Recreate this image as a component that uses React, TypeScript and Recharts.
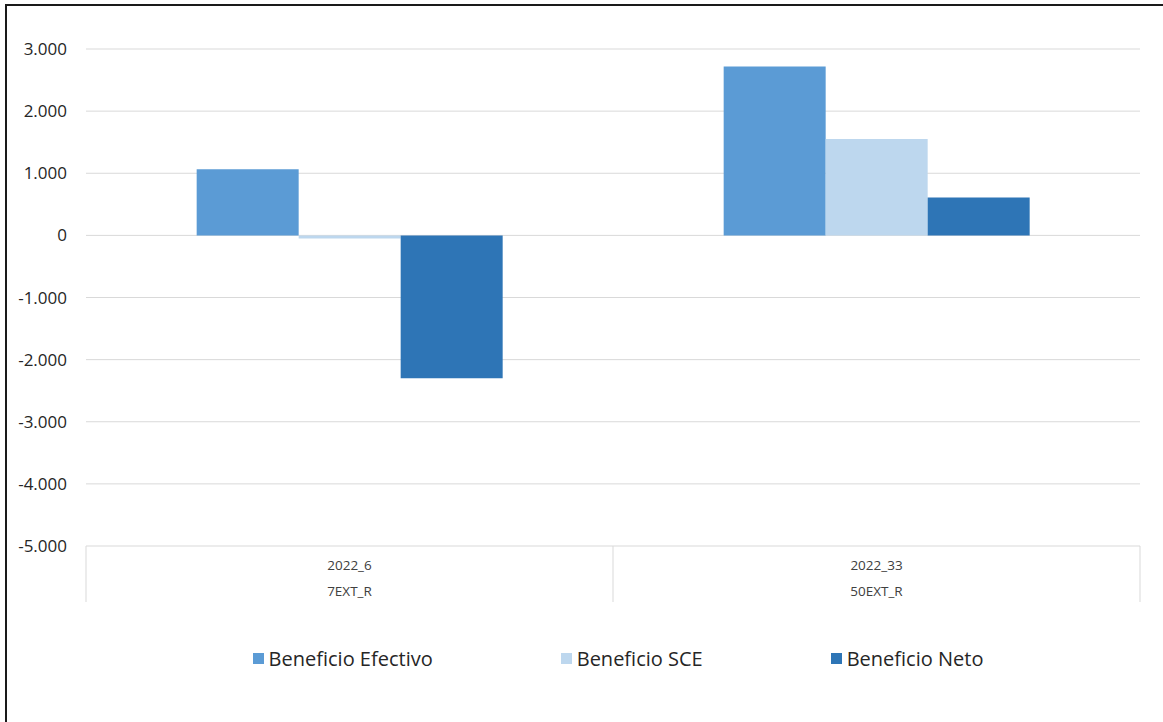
import React from "react";
import { BarChart, Bar, XAxis, YAxis, CartesianGrid, Legend } from "recharts";

const periods = ["2022_6", "2022_33"];
const codes = ["7EXT_R", "50EXT_R"];
const efectivo = [1065, 2720];
const sce = [-50, 1550];
const neto = [-2300, 610];
const yTicks = [-5000, -4000, -3000, -2000, -1000, 0, 1000, 2000, 3000];
const seriesOrder = ["Beneficio Efectivo", "Beneficio SCE", "Beneficio Neto"];

const data = periods.map((p, i) => ({
  period: p,
  code: codes[i],
  efectivo: efectivo[i],
  sce: sce[i],
  neto: neto[i],
}));

const W = 1163;
const H = 722;
const MARGIN = { top: 49, right: 23, left: 10, bottom: 52 };
const Y_WIDTH = 76;
const PLOT_W = W - MARGIN.left - MARGIN.right - Y_WIDTH;
const HALF = PLOT_W / periods.length / 2;
const FONT = "'Open Sans', 'Noto Sans', sans-serif";

const fmt = (v: number) =>
  (v < 0 ? "-" : "") + String(Math.abs(v)).replace(/\B(?=(\d{3})+(?!\d))/g, ".");

const CategoryTick = (props: any) => {
  const { x, y, payload, index } = props;
  const row = data[index] || data.find((d) => d.period === payload.value);
  return (
    <g>
      {index === 0 && (
        <line x1={x - HALF} x2={x - HALF} y1={y} y2={y + 56} stroke="#d9d9d9" />
      )}
      <line x1={x + HALF} x2={x + HALF} y1={y} y2={y + 56} stroke="#d9d9d9" />
      <text x={x} y={y + 24} textAnchor="middle" fontSize={13.5} fill="#404040" fontFamily={FONT}>
        {payload.value}
      </text>
      <text x={x} y={y + 50} textAnchor="middle" fontSize={13.5} fill="#404040" fontFamily={FONT}>
        {row ? row.code : ""}
      </text>
    </g>
  );
};

const LegendContent = (props: any) => {
  const items = [...(props.payload || [])].sort(
    (a: any, b: any) => seriesOrder.indexOf(a.value) - seriesOrder.indexOf(b.value)
  );
  return (
    <div
      style={{
        display: "flex",
        justifyContent: "center",
        height: 24,
        alignItems: "center",
        paddingLeft: 86,
      }}
    >
      {items.map((item: any, i: number) => (
        <div
          key={i}
          style={{
            display: "flex",
            alignItems: "center",
            margin: "0 64px",
            fontFamily: FONT,
            fontSize: 20,
            color: "#262626",
          }}
        >
          <span
            style={{
              display: "inline-block",
              width: 11,
              height: 11,
              background: item.color,
              marginRight: 5,
            }}
          />
          {item.value}
        </div>
      ))}
    </div>
  );
};

export default function App() {
  return (
    <div style={{ position: "absolute", left: 0, top: 0, width: W, height: H, background: "#fff" }}>
      <div
        style={{
          position: "absolute",
          left: 5,
          top: 4,
          width: W - 5,
          height: H - 4,
          borderTop: "2px solid #1a1a1a",
          borderLeft: "2px solid #1a1a1a",
          boxSizing: "border-box",
        }}
      />
      <BarChart
        width={W}
        height={H}
        data={data}
        margin={MARGIN}
        barCategoryGap="21%"
        barGap={0}
        style={{ position: "absolute", left: 0, top: 0 }}
      >
        <CartesianGrid vertical={false} stroke="#d9d9d9" />
        <XAxis
          dataKey="period"
          axisLine={false}
          tickLine={false}
          tickSize={0}
          tickMargin={0}
          height={100}
          interval={0}
          tick={<CategoryTick />}
        />
        <YAxis
          width={Y_WIDTH}
          domain={[-5000, 3000]}
          ticks={yTicks}
          axisLine={false}
          tickLine={false}
          tickSize={0}
          tickMargin={19}
          tickFormatter={fmt}
          tick={{ fontSize: 17, fill: "#262626", fontFamily: FONT }}
        />
        <Legend verticalAlign="bottom" height={24} content={<LegendContent />} />
        <Bar dataKey="efectivo" name="Beneficio Efectivo" fill="#5B9BD5" isAnimationActive={false} />
        <Bar dataKey="sce" name="Beneficio SCE" fill="#BDD7EE" isAnimationActive={false} />
        <Bar dataKey="neto" name="Beneficio Neto" fill="#2E75B6" isAnimationActive={false} />
      </BarChart>
    </div>
  );
}
